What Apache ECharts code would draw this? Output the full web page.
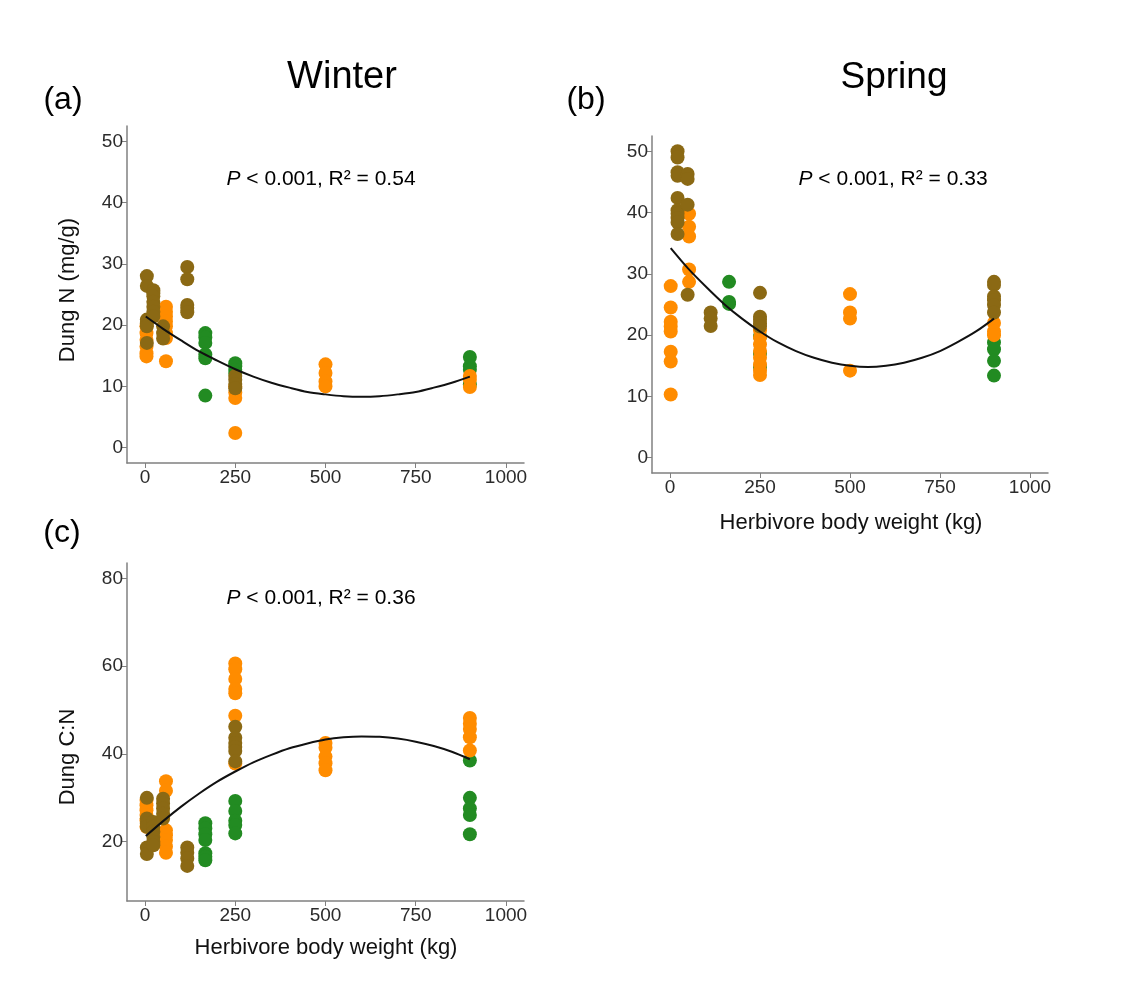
<!DOCTYPE html>
<html>
<head>
<meta charset="utf-8">
<script src="https://cdn.jsdelivr.net/npm/echarts@6/dist/echarts.min.js"></script>
<style>
  html, body { margin: 0; padding: 0; background: #fff; }
  #chart { width: 1121px; height: 1003px; }
</style>
</head>
<body>
<div id="chart"></div>
<script>
// x tick labels and y tick labels
let xTicks = [0, 250, 500, 750, 1000];
let nTicks = [0, 10, 20, 30, 40, 50];
let cnTicks = [20, 40, 60, 80];

// (a) winter dung N, [body weight, value]
let winterBrown = [[5, 28.0], [5, 26.4], [5, 20.9], [5, 20.3], [5, 19.8], [5, 17.1],
  [23, 25.7], [23, 25.2], [23, 24.7], [23, 23.8], [23, 23.0], [23, 22.2], [23, 21.4],
  [50, 19.8], [50, 18.7], [50, 17.8],
  [117, 29.5], [117, 27.5], [117, 23.3], [117, 22.8], [117, 22.1],
  [250, 11.7], [250, 11.1], [250, 10.4], [250, 9.7]];
let winterOrange = [[4, 19.8], [4, 18.7], [4, 17.6], [4, 16.5], [4, 15.4], [4, 14.9],
  [58, 23.0], [58, 22.2], [58, 21.4], [58, 20.6], [58, 19.8], [58, 18.7], [58, 17.9], [58, 14.1],
  [250, 10.0], [250, 9.0], [250, 8.1], [250, 2.4],
  [500, 13.6], [500, 12.2], [500, 10.8], [500, 10.0],
  [900, 11.7], [900, 11.1], [900, 9.9]];
let winterGreen = [[167, 18.7], [167, 18.0], [167, 17.1], [167, 15.2], [167, 14.6], [167, 8.5],
  [250, 13.8], [250, 13.3], [250, 12.7], [250, 12.2],
  [900, 14.8], [900, 13.3], [900, 12.7], [900, 10.3]];

// (b) spring dung N
let springBrown = [[21, 50.0], [21, 49.0], [21, 46.6], [21, 46.0], [21, 42.4], [21, 40.4], [21, 39.8], [21, 39.1], [21, 38.4], [21, 36.5],
  [49, 46.3], [49, 45.5], [49, 41.3], [49, 26.6],
  [113, 23.7], [113, 22.7], [113, 21.5],
  [250, 26.9], [250, 23.0], [250, 22.5], [250, 21.9], [250, 21.4],
  [900, 28.7], [900, 28.2], [900, 26.3], [900, 25.7], [900, 24.9], [900, 23.7]];
let springOrange = [[2, 28.0], [2, 24.5], [2, 22.2], [2, 21.4], [2, 20.6], [2, 17.3], [2, 15.7], [2, 10.3],
  [53, 39.8], [53, 37.7], [53, 36.1], [53, 30.7], [53, 28.7],
  [250, 20.8], [250, 19.6], [250, 18.5], [250, 17.4], [250, 16.3], [250, 15.2], [250, 14.2], [250, 13.5],
  [500, 26.7], [500, 23.7], [500, 22.7], [500, 14.2],
  [900, 22.0], [900, 20.6], [900, 20.0]];
let springGreen = [[164, 28.7], [164, 25.4], [164, 25.1],
  [250, 19.8], [250, 17.0], [250, 14.8],
  [900, 18.8], [900, 17.7], [900, 15.8], [900, 13.4]];

// (c) dung C:N (winter)
let ratioBrown = [[5, 30.0], [5, 25.3], [5, 24.2], [5, 23.4], [5, 18.7], [5, 17.2],
  [23, 24.5], [23, 23.4], [23, 22.3], [23, 21.1], [23, 20.0], [23, 19.2],
  [50, 29.8], [50, 28.7], [50, 27.6], [50, 26.4], [50, 25.3],
  [117, 18.7], [117, 17.5], [117, 16.2], [117, 14.5],
  [250, 46.2], [250, 43.7], [250, 42.5], [250, 41.6], [250, 40.7], [250, 38.3]];
let ratioOrange = [[4, 29.5], [4, 28.3], [4, 27.2], [4, 26.1], [4, 24.9], [4, 23.4],
  [58, 33.8], [58, 31.6], [58, 22.6], [58, 21.5], [58, 20.4], [58, 18.9], [58, 17.5],
  [250, 60.6], [250, 59.3], [250, 57.1], [250, 54.8], [250, 53.8], [250, 48.7], [250, 37.8],
  [500, 42.5], [500, 41.4], [500, 39.4], [500, 37.9], [500, 36.3],
  [900, 48.2], [900, 46.9], [900, 45.7], [900, 43.8], [900, 40.8]];
let ratioGreen = [[167, 24.2], [167, 23.0], [167, 21.7], [167, 20.4], [167, 17.4], [167, 16.6], [167, 15.8],
  [250, 29.3], [250, 27.0], [250, 24.8], [250, 23.8], [250, 21.9],
  [900, 38.5], [900, 30.0], [900, 27.6], [900, 26.1], [900, 21.7]];

// fitted curves
let fitX = [2, 50, 100, 150, 200, 250, 300, 350, 400, 450, 500, 550, 600, 650, 700, 750, 800, 850, 900];
let winterFit = [21.4, 19.4, 17.5, 15.7, 14.2, 12.8, 11.6, 10.6, 9.8, 9.1, 8.7, 8.4, 8.3, 8.4, 8.7, 9.1, 9.8, 10.6, 11.6];
let springFit = [34.2, 30.9, 27.9, 25.1, 22.7, 20.6, 18.8, 17.4, 16.3, 15.5, 15.0, 14.8, 15.0, 15.5, 16.3, 17.4, 18.9, 20.6, 22.7];
let ratioFit = [21.3, 24.7, 28.0, 31.0, 33.7, 36.0, 38.1, 39.8, 41.3, 42.4, 43.3, 43.8, 44.0, 43.9, 43.5, 42.8, 41.8, 40.5, 38.8];

let FONT = "'Liberation Sans', Arial, sans-serif";
let GREEN = "#228B22", ORANGE = "#FF8C00", BROWN = "#8B6914";
let AXIS_COLOR = "#808080";

let chart = echarts.init(document.getElementById("chart"), null, { renderer: "canvas" });

let plain = function (v) { return String(v); };
let makeX = function (gi) {
    return {
        type: "value", gridIndex: gi, min: -50, max: 1050,
        axisLine: { show: true, onZero: false, lineStyle: { color: AXIS_COLOR, width: 1.5 } },
        axisTick: { show: true, length: 5, customValues: xTicks, lineStyle: { color: AXIS_COLOR, width: 1 } },
        axisLabel: { customValues: xTicks, formatter: plain, color: "#2b2b2b", fontSize: 19, fontFamily: FONT, margin: 5 },
        splitLine: { show: false }
    };
};
let makeY = function (gi, min, max, ticks) {
    return {
        type: "value", gridIndex: gi, min: min, max: max,
        axisLine: { show: true, onZero: false, lineStyle: { color: AXIS_COLOR, width: 1.5 } },
        axisTick: { show: true, length: 5, customValues: ticks, lineStyle: { color: AXIS_COLOR, width: 1 } },
        axisLabel: { customValues: ticks, formatter: plain, color: "#2b2b2b", fontSize: 19, fontFamily: FONT, margin: 4 },
        splitLine: { show: false }
    };
};
let dots = function (gi, data, color) {
    return {
        type: "scatter", xAxisIndex: gi, yAxisIndex: gi, data: data,
        symbol: "circle", symbolSize: 14, itemStyle: { color: color, opacity: 1 }, silent: true
    };
};
let fit = function (gi, ys) {
    return {
        type: "line", xAxisIndex: gi, yAxisIndex: gi, smooth: 0.3, symbol: "none",
        data: fitX.map((x, i) => [x, ys[i]]),
        lineStyle: { color: "#111", width: 2 }, silent: true, z: 5
    };
};
let txt = function (text, x, y, size, extra) {
    return {
        type: "text", x: x, y: y,
        style: Object.assign({ text: text, font: size + "px " + FONT, fill: "#000", textAlign: "center", textVerticalAlign: "middle" }, extra || {})
    };
};
let stat = function (text, x, y) {
    return {
        type: "text", x: x, y: y,
        style: {
            text: "{i|P} < 0.001, R² = " + text,
            font: "21px " + FONT, fill: "#000", textAlign: "center", textVerticalAlign: "middle",
            rich: { i: { fontStyle: "italic", fontSize: 21, fontFamily: FONT } }
        }
    };
};
let rotTxt = function (text, x, y) {
    return {
        type: "text", x: x, y: y, rotation: Math.PI / 2,
        style: { text: text, font: "22px " + FONT, fill: "#111", textAlign: "center", textVerticalAlign: "middle" }
    };
};

chart.setOption({
    animation: false,
    backgroundColor: "#fff",
    grid: [
        { left: 127, top: 126, width: 397, height: 337, outerBoundsMode: "none" },
        { left: 652, top: 136, width: 396, height: 337, outerBoundsMode: "none" },
        { left: 127, top: 563, width: 397, height: 338, outerBoundsMode: "none" }
    ],
    xAxis: [makeX(0), makeX(1), makeX(2)],
    yAxis: [makeY(0, -2.5, 52.5, nTicks), makeY(1, -2.5, 52.5, nTicks), makeY(2, 6.5, 83.5, cnTicks)],
    series: [
        dots(0, winterGreen, GREEN), dots(0, winterOrange, ORANGE), dots(0, winterBrown, BROWN), fit(0, winterFit),
        dots(1, springGreen, GREEN), dots(1, springOrange, ORANGE), dots(1, springBrown, BROWN), fit(1, springFit),
        dots(2, ratioGreen, GREEN), dots(2, ratioOrange, ORANGE), dots(2, ratioBrown, BROWN), fit(2, ratioFit)
    ],
    graphic: [
        txt("Winter", 342, 78, 38),
        txt("Spring", 894, 78, 37),
        txt("(a)", 63, 100, 32),
        txt("(b)", 586, 100, 32),
        txt("(c)", 62, 533, 32),
        stat("0.54", 321, 179),
        stat("0.33", 893, 179),
        stat("0.36", 321, 598),
        rotTxt("Dung N (mg/g)", 68, 290),
        rotTxt("Dung C:N", 68, 757),
        txt("Herbivore body weight (kg)", 851, 523, 22, { fill: "#111" }),
        txt("Herbivore body weight (kg)", 326, 948, 22, { fill: "#111" })
    ]
});
</script>
</body>
</html>
